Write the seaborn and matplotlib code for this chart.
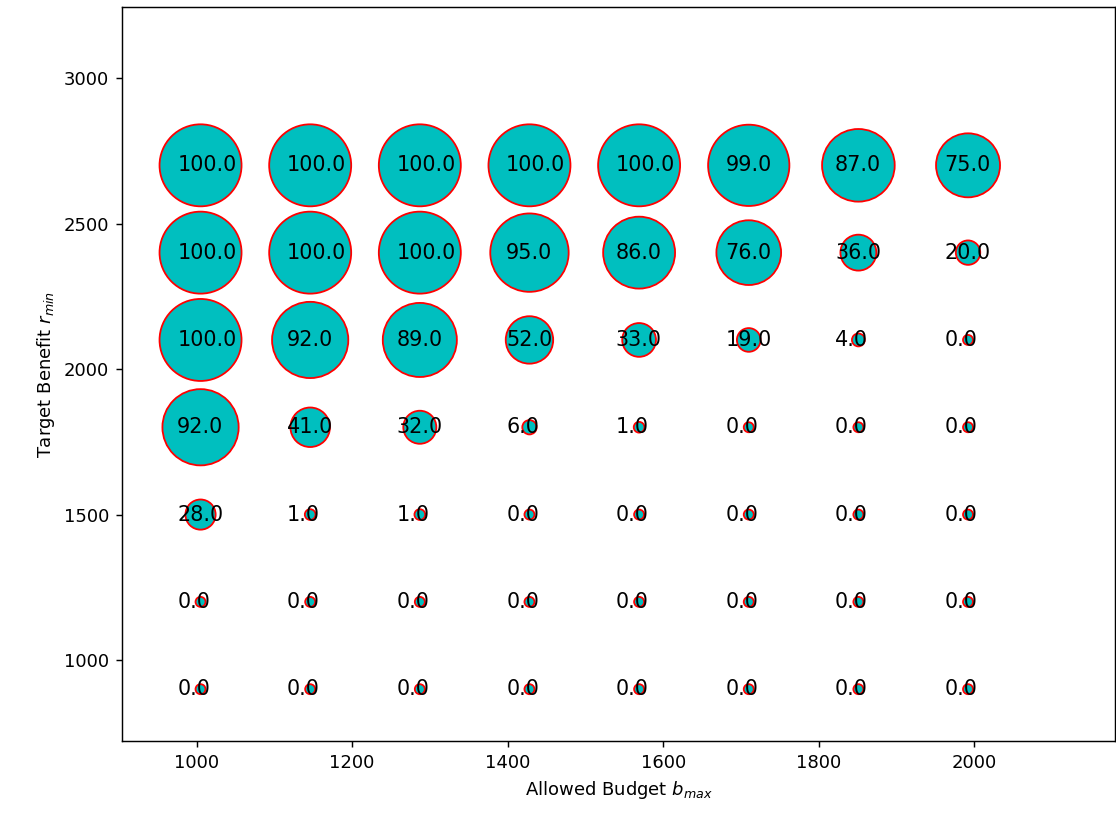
import numpy as np
import pandas as pd
import seaborn as sns
import matplotlib.pyplot as plt

# budgets (x) and target benefits (y)
budgets = [1005, 1146, 1287, 1428, 1569, 1710, 1851, 1992]
targets = [2700, 2400, 2100, 1800, 1500, 1200, 900]

# success rate (%) per target row, per budget column
rate_2700 = [100, 100, 100, 100, 100, 99, 87, 75]
rate_2400 = [100, 100, 100, 95, 86, 76, 36, 20]
rate_2100 = [100, 92, 89, 52, 33, 19, 4, 0]
rate_1800 = [92, 41, 32, 6, 1, 0, 0, 0]
rate_1500 = [28, 1, 1, 0, 0, 0, 0, 0]
rate_1200 = [0, 0, 0, 0, 0, 0, 0, 0]
rate_900 = [0, 0, 0, 0, 0, 0, 0, 0]

rates = [rate_2700, rate_2400, rate_2100, rate_1800, rate_1500, rate_1200, rate_900]

rows = []
for t, row in zip(targets, rates):
    for b, v in zip(budgets, row):
        rows.append({"budget": b, "target": t, "rate": v})
df = pd.DataFrame(rows)

DPI = 130
fig = plt.figure(figsize=(1116 / DPI, 814 / DPI), dpi=DPI)
ax = fig.add_axes([122 / 1116, 1 - 741 / 814, 993 / 1116, 734 / 814])

# marker diameter grows with the rate
diam_pt = (10 + 0.72 * df["rate"].to_numpy()) * 72 / DPI
sns.scatterplot(data=df, x="budget", y="target", s=diam_pt ** 2,
                color="c", edgecolor="red", linewidth=1.0, ax=ax, legend=False)

for _, r in df.iterrows():
    ax.text(r["budget"] - 30, r["target"], f"{r['rate']:.1f}",
            va="center", fontsize=11.5)

ax.set_xlim(904, 2181)
ax.set_ylim(722, 3244)
ax.set_xlabel("Allowed Budget $b_{max}$")
ax.set_ylabel("Target Benefit $r_{min}$")

fig.savefig("out.png", dpi=DPI)
